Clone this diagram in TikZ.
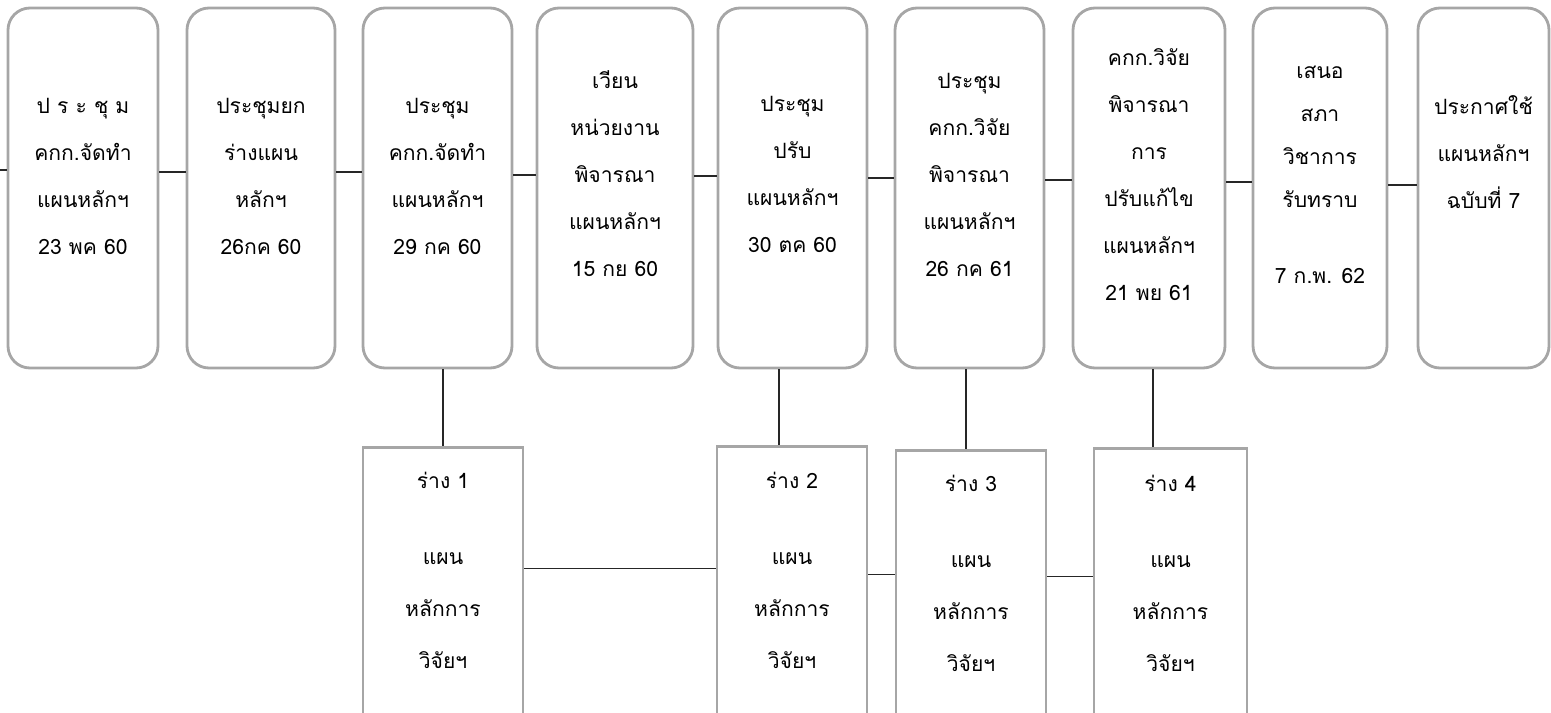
\documentclass[tikz,border=0pt]{standalone}
\usepackage{fontspec}
\usepackage{xcolor}
\usepackage{tikz}
\newfontfamily\thaifont[Script=Thai]{Loma}
\newdimen\pxu
\pxu=0.025cm

\tikzset{
	stage/.style={draw=black!35, line width=2pt, rounded corners=0.55cm, minimum height=360\pxu, inner sep=0pt},
	draft/.style={draw=black!35, line width=2pt, minimum height=314\pxu, anchor=north, inner sep=0pt},
	stagetext/.style={align=center, font=\thaifont\fontsize{15}{33.4}\selectfont},
	drafttext/.style={align=center, font=\thaifont\fontsize{15}{37}\selectfont},
	link/.style={line width=1pt, black!85}
}

\begin{document}
\begin{tikzpicture}[x=\pxu, y=-\pxu]

	\useasboundingbox (0,0) rectangle (1551,712);
	\clip (0,0) rectangle (1551,712);

	\def \y {188}
	\node[stage, minimum width=150\pxu] (b1) at (83,\y) {};
	\node[stage, minimum width=148\pxu] (b2) at (261,\y) {};
	\node[stage, minimum width=149\pxu] (b3) at (437.5,\y) {};
	\node[stage, minimum width=156\pxu] (b4) at (615,\y) {};
	\node[stage, minimum width=149\pxu] (b5) at (792.5,\y) {};
	\node[stage, minimum width=149\pxu] (b6) at (969.5,\y) {};
	\node[stage, minimum width=152\pxu] (b7) at (1149,\y) {};
	\node[stage, minimum width=134\pxu] (b8) at (1320,\y) {};
	\node[stage, minimum width=131\pxu] (b9) at (1483.5,\y) {};

	\node[stagetext] (t1) at (83,176) {ป ร ะ ชุ ม\\คกก.จัดทำ\\แผนหลักฯ\\ 23 พค 60};
	\node[stagetext] (t2) at (261,176) {ประชุมยก\\ร่างแผน\\หลักฯ\\26กค 60};
	\node[stagetext] (t3) at (437.5,176) {ประชุม\\คกก.จัดทำ\\แผนหลักฯ\\29 กค 60};
	\node[stagetext] (t4) at (615,174) {เวียน\\หน่วยงาน\\พิจารณา\\แผนหลักฯ\\15 กย 60};
	\node[stagetext] (t5) at (792.5,174) {ประชุม\\ปรับ\\แผนหลักฯ\\30 ตค 60};
	\node[stagetext] (t6) at (969.5,175) {ประชุม\\คกก.วิจัย\\พิจารณา\\แผนหลักฯ\\26 กค 61};
	\node[stagetext] (t7) at (1149,175) {คกก.วิจัย\\พิจารณา\\การ\\ปรับแก้ไข\\แผนหลักฯ\\21 พย 61};
	\node[stagetext, font=\thaifont\fontsize{15}{30.6}\selectfont] (t8) at (1320,175) {เสนอ\\สภา\\วิชาการ\\รับทราบ\\[33\pxu]7 ก.พ. 62};
	\node[stagetext] (t9) at (1483.5,152) {ประกาศใช้\\แผนหลักฯ\\ฉบับที่ 7};

	\node[draft, minimum width=160\pxu] (d1) at (443,446) {};
	\node[draft, minimum width=150\pxu] (d2) at (792,445) {};
	\node[draft, minimum width=150\pxu] (d3) at (971,449) {};
	\node[draft, minimum width=153\pxu] (d4) at (1170.5,447) {};

	\node[drafttext] (r1) at (443,570) {ร่าง 1\\[24\pxu]แผน\\หลักการ\\วิจัยฯ};
	\node[drafttext] (r2) at (792,570) {ร่าง 2\\[24\pxu]แผน\\หลักการ\\วิจัยฯ};
	\node[drafttext] (r3) at (971,573) {ร่าง 3\\[24\pxu]แผน\\หลักการ\\วิจัยฯ};
	\node[drafttext] (r4) at (1170.5,573) {ร่าง 4\\[24\pxu]แผน\\หลักการ\\วิจัยฯ};

	\coordinate (start) at (0,170);
	\draw[link] (start) -- (start -| b1.west);
	\draw[link] ([yshift=16\pxu]b1.east) -- ([yshift=16\pxu]b1.east -| b2.west);
	\draw[link] ([yshift=16\pxu]b2.east) -- ([yshift=16\pxu]b2.east -| b3.west);
	\draw[link] ([yshift=13\pxu]b3.east) -- ([yshift=13\pxu]b3.east -| b4.west);
	\draw[link] ([yshift=12\pxu]b4.east) -- ([yshift=12\pxu]b4.east -| b5.west);
	\draw[link] ([yshift=10\pxu]b5.east) -- ([yshift=10\pxu]b5.east -| b6.west);
	\draw[link] ([yshift=8\pxu]b6.east) -- ([yshift=8\pxu]b6.east -| b7.west);
	\draw[link] ([yshift=6\pxu]b7.east) -- ([yshift=6\pxu]b7.east -| b8.west);
	\draw[link] ([yshift=3\pxu]b8.east) -- ([yshift=3\pxu]b8.east -| b9.west);

	\draw[link] ([xshift=5.5\pxu]b3.south) -- ([xshift=5.5\pxu]b3.south |- d1.north);
	\draw[link] ([xshift=-13.5\pxu]b5.south) -- ([xshift=-13.5\pxu]b5.south |- d2.north);
	\draw[link] ([xshift=-3.5\pxu]b6.south) -- ([xshift=-3.5\pxu]b6.south |- d3.north);
	\draw[link] ([xshift=4\pxu]b7.south) -- ([xshift=4\pxu]b7.south |- d4.north);

	\draw[link] ([yshift=36\pxu]d1.east) -- ([yshift=36\pxu]d1.east -| d2.west);
	\draw[link] ([yshift=29\pxu]d2.east) -- ([yshift=29\pxu]d2.east -| d3.west);
	\draw[link] ([yshift=31\pxu]d3.east) -- ([yshift=31\pxu]d3.east -| d4.west);

\end{tikzpicture}
\end{document}
